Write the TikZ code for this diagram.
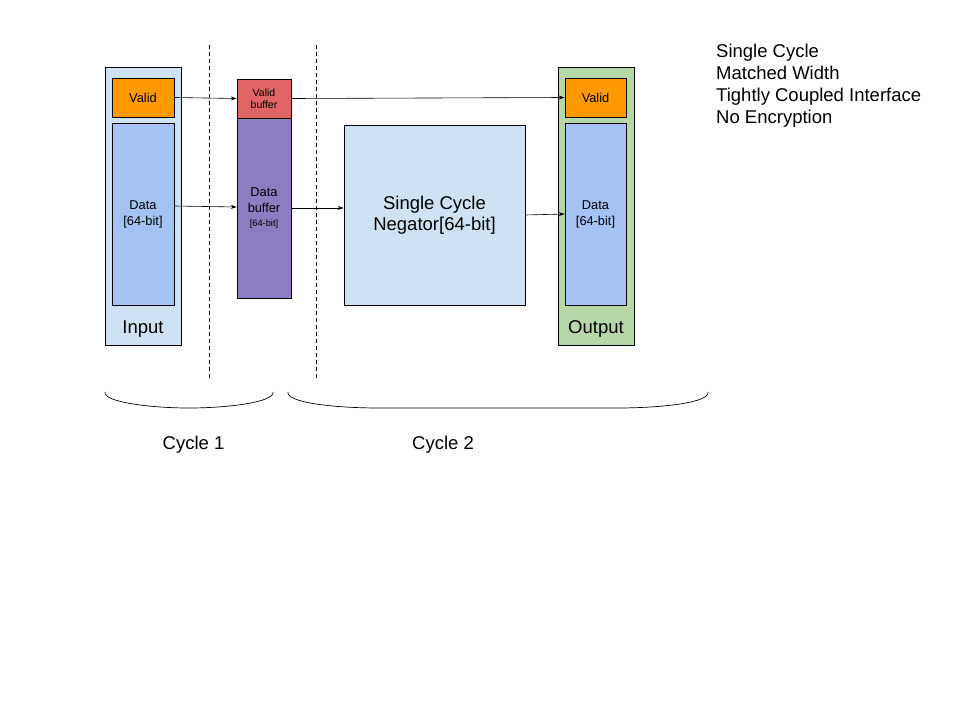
\documentclass[tikz,border=0pt]{standalone}
\usepackage{fontspec}
\setmainfont{Liberation Sans}
\usetikzlibrary{arrows.meta,calc}
\definecolor{lblue}{HTML}{CFE2F3}
\definecolor{orng}{HTML}{FF9900}
\definecolor{dblue}{HTML}{A4C2F4}
\definecolor{lred}{HTML}{E06666}
\definecolor{purp}{HTML}{8E7CC3}
\definecolor{lgreen}{HTML}{B6D7A8}
\tikzset{
  box/.style={draw=black, line width=0.6pt, rectangle, inner sep=0pt, align=center},
  txt/.style={inner sep=0pt, align=center},
  arr/.style={-{Stealth[length=6pt,width=4pt]}, line width=0.6pt},
  sep/.style={line width=0.6pt, dash pattern=on 4pt off 3pt},
  brace/.style={line width=0.7pt},
  big/.style={font=\fontsize{18.5}{22}\selectfont},
  small/.style={font=\fontsize{12.8}{15}\selectfont}
}
\begin{document}
\begin{tikzpicture}[x=1pt,y=-1pt]
\useasboundingbox (0,0) rectangle (960,720);
% dashed separators
\coordinate (s1a) at (209,45); \coordinate (s1b) at (209,380);
\coordinate (s2a) at (316,45); \coordinate (s2b) at (316,380);
\draw[sep] (s1a) -- (s1b);
\draw[sep] (s2a) -- (s2b);
% input
\node[box, fill=lblue, minimum width=76pt, minimum height=278pt] (in) at (143,206) {};
\node[box, fill=orng, minimum width=62pt, minimum height=39pt, small] (iv) at (143,97.5) {Valid};
\node[box, fill=dblue, minimum width=62pt, minimum height=182pt, font=\fontsize{12.8}{16}\selectfont] (id) at (143,214) {Data\\{}[64-bit]};
\node[txt, big] (inl) at (143,329) {Input};
% buffers
\node[box, fill=lred, minimum width=54pt, minimum height=39pt, font=\fontsize{10.5}{12}\selectfont] (vb) at (264,98.5) {Valid\\buffer};
\node[box, fill=purp, minimum width=54pt, minimum height=180pt, font=\fontsize{12.8}{16}\selectfont] (db) at (264,208) {Data\\buffer\\[-2pt]{\fontsize{9.3}{11}\selectfont [64-bit]}};
% negator
\node[box, fill=lblue, minimum width=181pt, minimum height=180pt, font=\fontsize{18.5}{21.5}\selectfont] (neg) at (434.5,215) {Single Cycle\\Negator[64-bit]};
% output
\node[box, fill=lgreen, minimum width=76pt, minimum height=278pt] (out) at (596,206) {};
\node[box, fill=orng, minimum width=61pt, minimum height=39pt, small] (ov) at (595.5,97.5) {Valid};
\node[box, fill=dblue, minimum width=61pt, minimum height=182pt, font=\fontsize{12.8}{16}\selectfont] (od) at (595.5,214) {Data\\{}[64-bit]};
\node[txt, big] (outl) at (596,329) {Output};
% arrows
\draw[arr] (iv.east) -- (vb.west);
\draw[arr] (vb.east) -- (ov.west);
\draw[arr] ($(id.east)+(0,-8)$) -- ($(db.west)+(0,-1)$);
\draw[arr] (db.east) -- (db.east -| neg.west);
\draw[arr] (neg.east) -- (od.west);
% braces
\coordinate (b1l) at (105,392); \coordinate (b1r) at (273,392);
\coordinate (b2l) at (288,392); \coordinate (b2r) at (708,392);
\draw[brace] (b1l) .. controls (103,402) and (150,408) .. (189,408) .. controls (228,408) and (275,402) .. (b1r);
\draw[brace] (b2l) .. controls (286,402) and (330,408) .. (380,408) -- (616,408) .. controls (666,408) and (710,402) .. (b2r);
\node[txt, big] (c1) at (193.5,445) {Cycle 1};
\node[txt, big] (c2) at (443,445) {Cycle 2};
% notes
\node[txt, anchor=north west, align=left, big] (notes) at (716,44) {Single Cycle\\Matched Width\\Tightly Coupled Interface\\No Encryption};
\end{tikzpicture}
\end{document}
